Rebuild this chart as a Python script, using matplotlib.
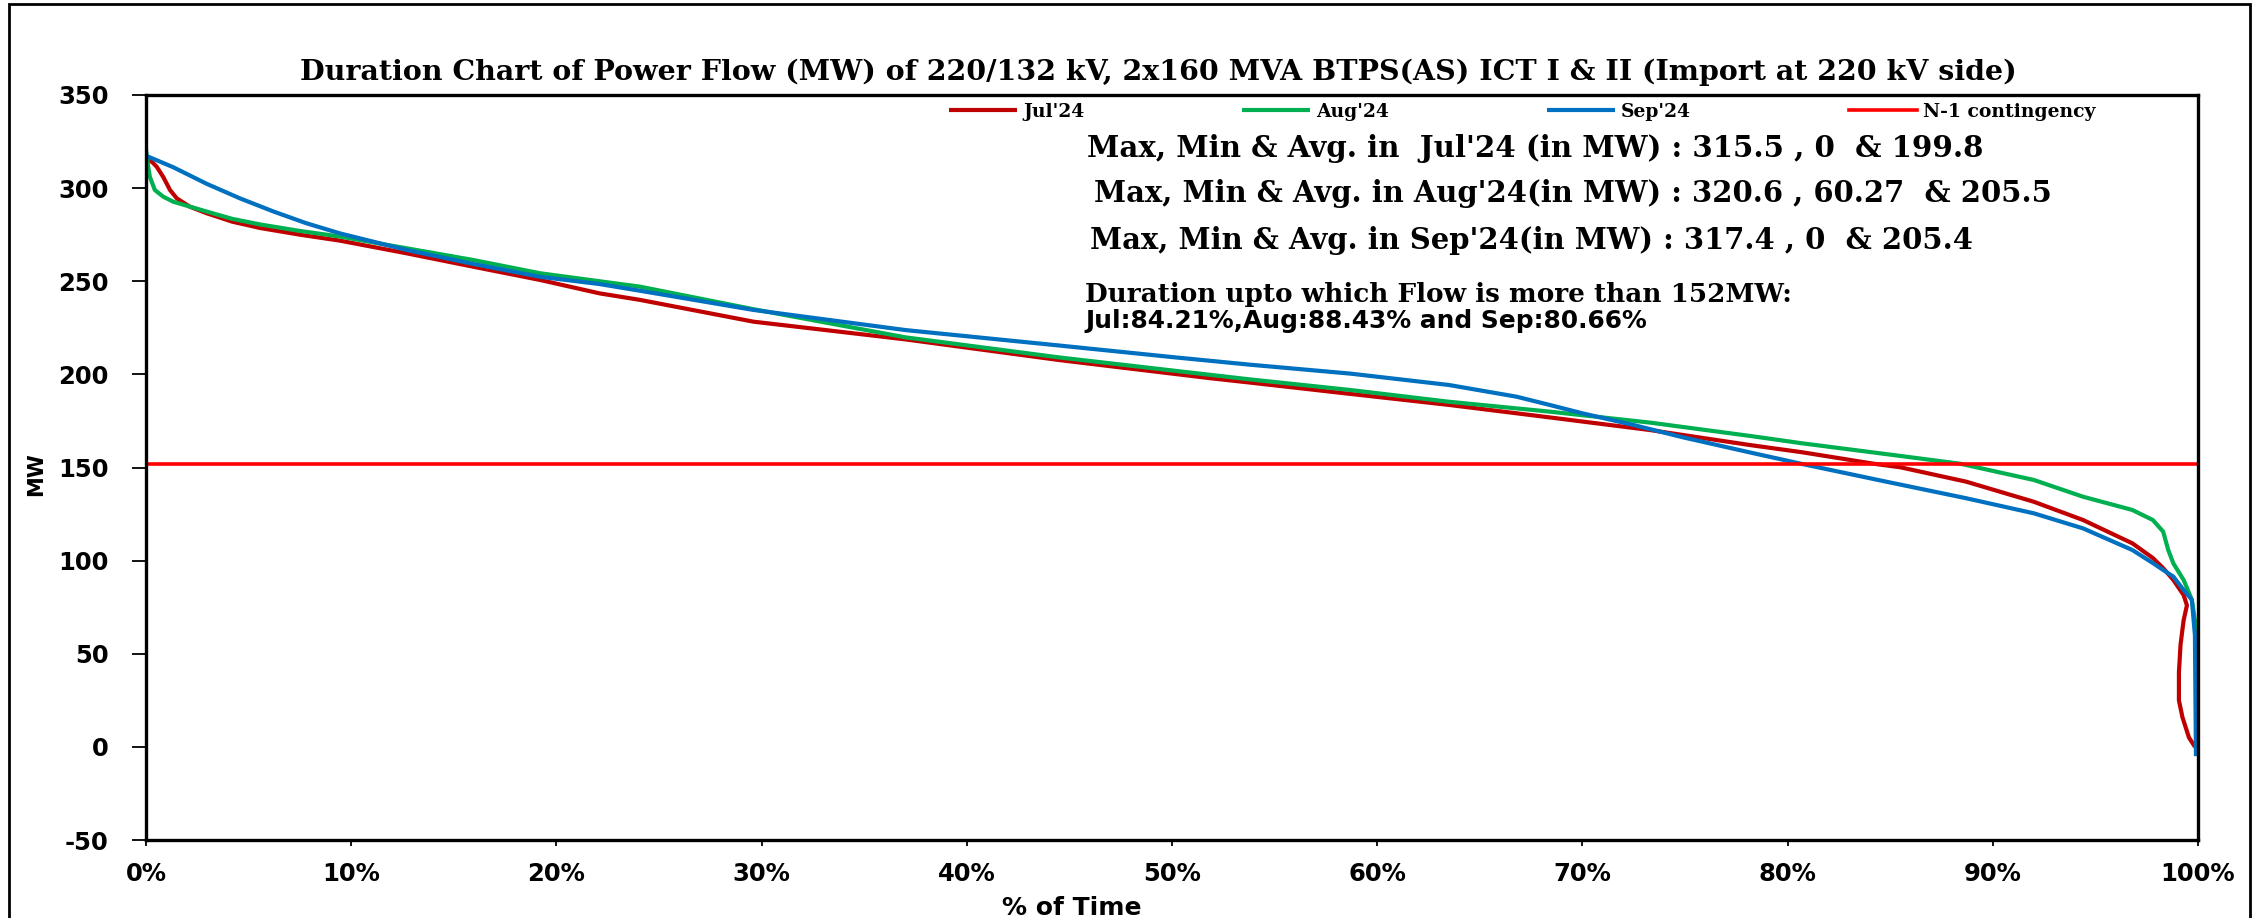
import matplotlib
matplotlib.use("Agg")
import matplotlib.pyplot as plt
from matplotlib.patches import Rectangle
from matplotlib.ticker import FuncFormatter

plt.rcParams["axes.unicode_minus"] = False

# ---------------- data ----------------
jul_pct = [0, 0.3, 0.52, 0.84, 1.17, 1.5, 2.14, 2.96, 4.2, 5.56, 7.5, 9.45,
           12.7, 15.95, 19.2, 22.1, 24.07, 29.6, 37.0, 44.5, 51.9, 53.8, 58.7,
           63.5, 68.4, 73.3, 78.2, 80.7, 84.21, 85.5, 88.7, 92.0, 94.4, 96.8,
           97.8, 98.3, 98.8, 99.3, 99.46, 99.3, 99.15, 99.07, 99.07, 99.24,
           99.56, 99.85]
jul_mw = [315.5, 314.0, 311.5, 306.0, 299.0, 294.5, 290.0, 286.5, 282.0, 278.6,
          275.0, 271.8, 265.0, 257.8, 250.7, 243.5, 240.0, 228.3, 218.8, 207.7,
          197.9, 195.6, 189.5, 183.6, 176.9, 170.1, 162.0, 158.2, 152.0, 150.1,
          142.4, 131.6, 121.8, 109.3, 101.4, 96.0, 89.6, 81.5, 76.0, 68.0, 55.0,
          40.0, 25.0, 16.0, 5.0, 0.0]

aug_pct = [0, 0.1, 0.19, 0.43, 0.84, 1.33, 2.96, 4.2, 5.56, 7.5, 9.45, 12.7,
           15.95, 19.2, 22.1, 24.07, 29.6, 37.0, 44.5, 51.9, 53.8, 58.7, 63.5,
           68.4, 73.3, 78.2, 80.7, 84.8, 88.43, 92.0, 94.4, 96.8, 97.8, 98.3,
           98.55, 98.8, 99.3, 99.7, 99.85, 99.88]
aug_mw = [320.6, 312.0, 306.0, 299.0, 295.4, 292.7, 287.4, 283.5, 280.5, 277.0,
          274.0, 267.7, 261.4, 254.3, 250.0, 247.1, 235.0, 219.9, 209.1, 199.7,
          197.3, 191.6, 185.3, 180.0, 174.1, 166.9, 163.0, 157.2, 152.0, 143.3,
          134.3, 127.2, 121.8, 115.6, 105.7, 98.5, 89.6, 79.0, 68.0, 48.0]

sep_pct = [0, 1.33, 2.96, 4.58, 6.2, 7.8, 9.45, 12.7, 15.95, 19.2, 22.1, 24.07,
           29.6, 37.0, 44.5, 50.0, 53.8, 58.7, 63.5, 66.8, 68.4, 70.0, 72.5,
           74.9, 78.2, 80.66, 84.8, 88.7, 92.0, 94.4, 96.8, 97.8, 98.3, 98.8,
           99.3, 99.7, 99.85, 99.88, 99.9]
sep_mw = [317.4, 311.2, 302.3, 294.5, 287.5, 281.2, 275.7, 266.8, 259.3, 252.4,
          248.5, 244.9, 234.6, 223.8, 215.5, 209.3, 205.2, 200.4, 194.3, 188.0,
          183.6, 179.1, 172.8, 166.2, 158.0, 152.0, 142.4, 133.5, 125.4, 117.3,
          105.7, 98.7, 95.0, 91.4, 84.2, 79.0, 60.0, 20.0, -5.0]

n1_limit = 152
x_ticks = [0, 10, 20, 30, 40, 50, 60, 70, 80, 90, 100]
y_ticks = [-50, 0, 50, 100, 150, 200, 250, 300, 350]
series_labels = ["Jul'24", "Aug'24", "Sep'24", "N-1 contingency"]

title_text = ("Duration Chart of Power Flow (MW) of 220/132 kV, 2x160 MVA "
              "BTPS(AS) ICT I & II (Import at 220 kV side)")
stats_lines = ["Max, Min & Avg. in  Jul'24 (in MW) : 315.5 , 0  & 199.8",
               "Max, Min & Avg. in Aug'24(in MW) : 320.6 , 60.27  & 205.5",
               "Max, Min & Avg. in Sep'24(in MW) : 317.4 , 0  & 205.4"]
duration_head = "Duration upto which Flow is more than 152MW:"
duration_vals = "Jul:84.21%,Aug:88.43% and Sep:80.66%"
x_label = "% of Time"
y_label = "MW"

# ---------------- figure ----------------
W, H = 2263, 918
fig = plt.figure(figsize=(W / 100, H / 100), dpi=100)
fig.patch.set_facecolor("white")

# outer chart border (its bottom edge lies outside the picture)
fig.patches.append(Rectangle((8.5 / W, -0.05), (2250 - 8.5) / W, 1.05 - 4 / H,
                             transform=fig.transFigure, fill=False,
                             edgecolor="black", linewidth=2.0))

ax = fig.add_axes([146 / W, 1 - 840 / H, (2198 - 146) / W, (840 - 95) / H])

lw = 3.0
ax.plot(jul_pct, jul_mw, color="#C00000", lw=lw, label=series_labels[0],
        solid_joinstyle="round", solid_capstyle="butt")
ax.plot(aug_pct, aug_mw, color="#00B050", lw=lw, label=series_labels[1],
        solid_joinstyle="round", solid_capstyle="butt")
ax.plot(sep_pct, sep_mw, color="#0070C0", lw=lw, label=series_labels[2],
        solid_joinstyle="round", solid_capstyle="butt")
ax.plot([x_ticks[0], x_ticks[-1]], [n1_limit, n1_limit], color="#FF0000",
        lw=2.6, label=series_labels[3])

ax.set_xlim(x_ticks[0], x_ticks[-1])
ax.set_ylim(y_ticks[0], y_ticks[-1])
ax.set_xticks(x_ticks)
ax.set_yticks(y_ticks)
ax.xaxis.set_major_formatter(FuncFormatter(lambda v, p: f"{int(round(v))}%"))
ax.yaxis.set_major_formatter(FuncFormatter(lambda v, p: f"{int(round(v))}"))

for sp in ax.spines.values():
    sp.set_linewidth(2.4)
    sp.set_color("black")

ax.tick_params(axis="y", direction="out", length=10, width=1.3, pad=17)
ax.tick_params(axis="x", direction="out", length=4.5, width=1.3, pad=11)
for lab in ax.get_xticklabels() + ax.get_yticklabels():
    lab.set_fontfamily("DejaVu Sans")
    lab.set_fontweight("bold")
    lab.set_fontsize(17.5)

ax.set_xlabel(x_label, fontfamily="DejaVu Sans", fontweight="bold", fontsize=18)
ax.xaxis.set_label_coords((1072 - 146) / 2052, (840 - 908) / 745)
ax.xaxis.label.set_va("center")
ax.set_ylabel(y_label, fontfamily="DejaVu Sans", fontweight="bold", fontsize=15)
ax.yaxis.set_label_coords((36 - 146) / 2052, (840 - 474) / 745)
ax.yaxis.label.set_va("center")

# legend
leg_fs = 13.5
em = leg_fs * 100 / 72
ax.legend(loc="center left", bbox_to_anchor=((949 - 146) / 2052, (840 - 112) / 745),
          ncol=4, frameon=False, borderpad=0, borderaxespad=0,
          handlelength=68 / em, handletextpad=6 / em, columnspacing=158 / em,
          prop=dict(family="DejaVu Serif", weight="bold", size=leg_fs))

# texts, sized from the widths seen in the reference
renderer = fig.canvas.get_renderer()


def fit_text(x_px, base_px, s, target_w, k, ha="left", **kw):
    t = fig.text(x_px / W, 1 - base_px / H, s, ha=ha, va="baseline",
                 fontsize=20, **kw)
    w = t.get_window_extent(renderer).width
    t.set_fontsize(20 * k * target_w / w)
    return t


serif_b = dict(fontfamily="DejaVu Serif", fontweight="bold")
fit_text(1158, 80, title_text, 1906, 0.9, ha="center", **serif_b)
fit_text(1087, 157, stats_lines[0], 961, 0.93, **serif_b)
fit_text(1094, 202, stats_lines[1], 1027, 0.93, **serif_b)
fit_text(1090, 249, stats_lines[2], 948, 0.93, **serif_b)
fit_text(1085, 302, duration_head, 769, 0.92, **serif_b)
fit_text(1085, 328, duration_vals, 605, 0.93,
         fontfamily="DejaVu Sans", fontweight="bold")

fig.savefig("out.png", dpi=100, facecolor="white")
